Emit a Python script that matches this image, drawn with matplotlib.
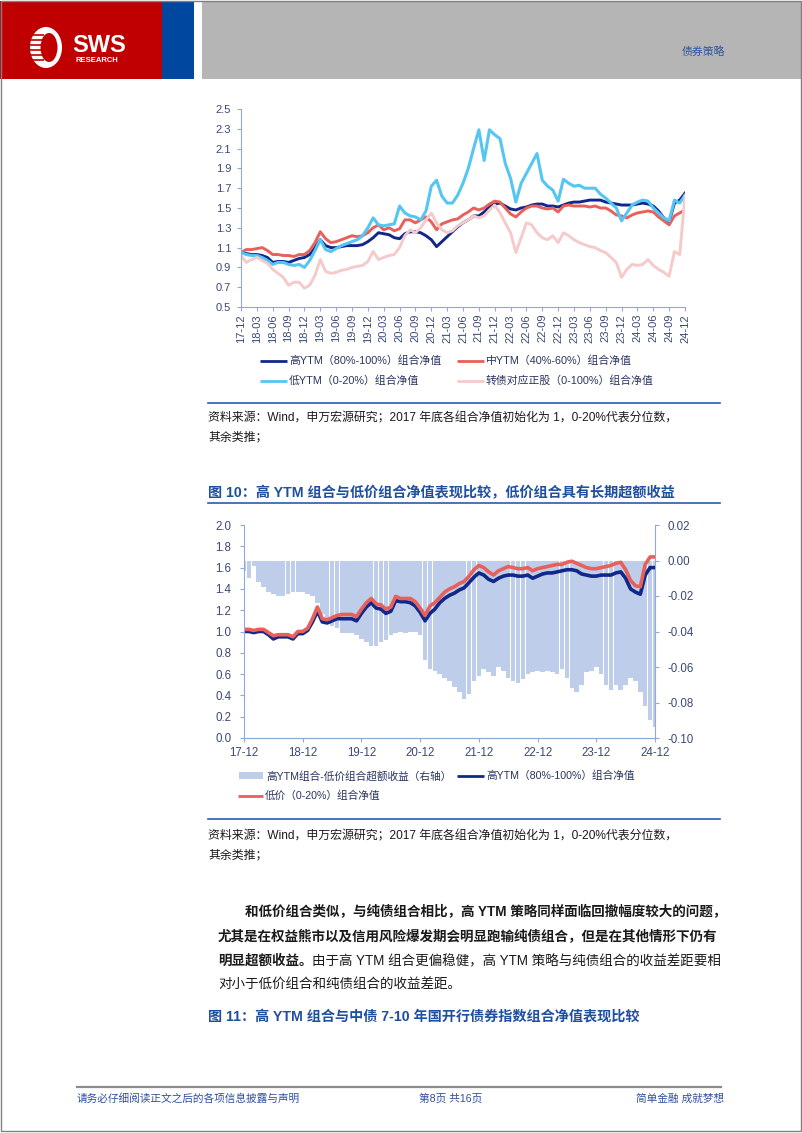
import numpy as np
import matplotlib.pyplot as plt
from matplotlib.patches import Rectangle, Ellipse

plt.rcParams['font.family'] = ['Liberation Sans', 'Noto Sans CJK SC']
plt.rcParams['axes.unicode_minus'] = False

# ---- data (monthly, 17-12 .. 24-12) ----
q_labels = ['17-12', '18-03', '18-06', '18-09', '18-12', '19-03', '19-06', '19-09', '19-12',
            '20-03', '20-06', '20-09', '20-12', '21-03', '21-06', '21-09', '21-12', '22-03',
            '22-06', '22-09', '22-12', '23-03', '23-06', '23-09', '23-12', '24-03', '24-06',
            '24-09', '24-12']
y_labels = ['17-12', '18-12', '19-12', '20-12', '21-12', '22-12', '23-12', '24-12']

# fig 9 (top chart)
hi_ytm = [1.05,
          1.04, 1.03, 1.03, 1.02, 1.00, 0.95, 0.96, 0.96, 0.95, 0.97, 0.99, 1.00,
          1.03, 1.10, 1.18, 1.12, 1.10, 1.10, 1.11, 1.12, 1.12, 1.12, 1.13, 1.16,
          1.20, 1.25, 1.24, 1.23, 1.20, 1.19, 1.24, 1.26, 1.26, 1.25, 1.22, 1.18,
          1.11, 1.16, 1.21, 1.26, 1.31, 1.35, 1.38, 1.42, 1.42, 1.46, 1.51, 1.54,
          1.55, 1.52, 1.49, 1.48, 1.50, 1.51, 1.53, 1.54, 1.54, 1.52, 1.52, 1.51,
          1.53, 1.55, 1.56, 1.56, 1.57, 1.58, 1.58, 1.58, 1.56, 1.55, 1.54, 1.53,
          1.53, 1.53, 1.54, 1.55, 1.54, 1.52, 1.47, 1.40, 1.36, 1.55, 1.58, 1.65]
mid_ytm = [1.05,
           1.08, 1.08, 1.09, 1.10, 1.07, 1.03, 1.03, 1.02, 1.02, 1.01, 1.03, 1.03,
           1.07, 1.15, 1.26, 1.19, 1.15, 1.16, 1.18, 1.20, 1.22, 1.21, 1.22, 1.25,
           1.30, 1.33, 1.28, 1.30, 1.27, 1.29, 1.38, 1.38, 1.35, 1.38, 1.41, 1.36,
           1.28, 1.34, 1.36, 1.38, 1.39, 1.43, 1.46, 1.50, 1.48, 1.50, 1.54, 1.57,
           1.56, 1.50, 1.44, 1.41, 1.46, 1.50, 1.52, 1.52, 1.50, 1.49, 1.50, 1.46,
           1.52, 1.53, 1.52, 1.52, 1.52, 1.51, 1.52, 1.50, 1.50, 1.47, 1.43, 1.42,
           1.40, 1.43, 1.45, 1.46, 1.47, 1.46, 1.41, 1.37, 1.33, 1.42, 1.45, 1.48]
lo_ytm = [1.05,
          1.03, 1.02, 1.02, 1.00, 0.97, 0.93, 0.95, 0.95, 0.93, 0.92, 0.93, 0.90,
          0.97, 1.07, 1.18, 1.08, 1.06, 1.09, 1.12, 1.14, 1.16, 1.18, 1.22, 1.30,
          1.40, 1.33, 1.32, 1.33, 1.34, 1.52, 1.45, 1.42, 1.41, 1.38, 1.47, 1.72,
          1.78, 1.62, 1.55, 1.55, 1.63, 1.75, 1.90, 2.10, 2.29, 1.98, 2.29, 2.24,
          2.20, 1.95, 1.80, 1.56, 1.75, 1.85, 1.95, 2.05, 1.78, 1.72, 1.68, 1.57,
          1.79, 1.75, 1.72, 1.73, 1.70, 1.70, 1.70, 1.64, 1.60, 1.55, 1.50, 1.37,
          1.45, 1.53, 1.56, 1.58, 1.57, 1.50, 1.45, 1.40, 1.37, 1.58, 1.55, 1.63]
stock = [1.02,
         0.95, 0.98, 1.00, 0.97, 0.94, 0.88, 0.84, 0.80, 0.72, 0.75, 0.75, 0.69,
         0.72, 0.82, 0.98, 0.86, 0.84, 0.85, 0.87, 0.88, 0.90, 0.91, 0.92, 0.96,
         1.06, 0.98, 1.00, 1.02, 1.03, 1.10, 1.22, 1.28, 1.25, 1.30, 1.38, 1.45,
         1.35, 1.28, 1.25, 1.27, 1.32, 1.35, 1.38, 1.42, 1.40, 1.42, 1.48, 1.53,
         1.45, 1.35, 1.25, 1.05, 1.20, 1.35, 1.33, 1.25, 1.20, 1.18, 1.22, 1.15,
         1.25, 1.22, 1.18, 1.15, 1.13, 1.11, 1.10, 1.07, 1.05, 1.00, 0.95, 0.80,
         0.88, 0.93, 0.92, 0.93, 0.98, 0.92, 0.88, 0.85, 0.81, 1.06, 1.03, 1.62]

# fig 10 (bottom chart)
hi_nav = [1.00,
          1.00, 0.99, 1.00, 1.00, 0.97, 0.93, 0.95, 0.95, 0.95, 0.93, 0.98, 0.98,
          1.01, 1.09, 1.19, 1.09, 1.08, 1.10, 1.12, 1.12, 1.12, 1.12, 1.10, 1.17,
          1.23, 1.27, 1.22, 1.21, 1.17, 1.19, 1.29, 1.28, 1.28, 1.27, 1.24, 1.18,
          1.10, 1.17, 1.21, 1.27, 1.31, 1.34, 1.36, 1.39, 1.41, 1.46, 1.51, 1.55,
          1.53, 1.49, 1.47, 1.50, 1.52, 1.53, 1.53, 1.52, 1.52, 1.53, 1.50, 1.52,
          1.54, 1.55, 1.55, 1.56, 1.57, 1.58, 1.58, 1.57, 1.54, 1.53, 1.52, 1.52,
          1.53, 1.53, 1.53, 1.55, 1.56, 1.50, 1.40, 1.37, 1.35, 1.53, 1.60, 1.60]
lowprice_nav = [1.02,
                1.02, 1.01, 1.02, 1.02, 0.99, 0.96, 0.97, 0.97, 0.97, 0.95, 1.00, 1.00,
                1.03, 1.12, 1.23, 1.12, 1.11, 1.13, 1.15, 1.16, 1.16, 1.16, 1.14, 1.21,
                1.27, 1.31, 1.26, 1.25, 1.21, 1.23, 1.33, 1.31, 1.31, 1.31, 1.28, 1.22,
                1.15, 1.24, 1.27, 1.32, 1.37, 1.40, 1.42, 1.45, 1.47, 1.52, 1.58, 1.62,
                1.60, 1.56, 1.53, 1.57, 1.59, 1.61, 1.60, 1.59, 1.59, 1.60, 1.57, 1.59,
                1.60, 1.61, 1.62, 1.63, 1.63, 1.65, 1.66, 1.64, 1.62, 1.60, 1.59, 1.59,
                1.60, 1.61, 1.62, 1.64, 1.65, 1.58, 1.48, 1.43, 1.42, 1.63, 1.70, 1.70]
excess = [-0.006,
          -0.010, -0.003, -0.012, -0.015, -0.018, -0.019, -0.020, -0.020, -0.019, -0.018, -0.018, -0.018,
          -0.019, -0.020, -0.024, -0.030, -0.034, -0.037, -0.038, -0.041, -0.041, -0.041, -0.042, -0.044,
          -0.046, -0.048, -0.048, -0.046, -0.045, -0.042, -0.041, -0.040, -0.041, -0.040, -0.040, -0.042,
          -0.056, -0.061, -0.062, -0.064, -0.066, -0.068, -0.071, -0.074, -0.078, -0.075, -0.068, -0.065,
          -0.061, -0.063, -0.065, -0.060, -0.062, -0.066, -0.068, -0.069, -0.067, -0.064, -0.063, -0.062,
          -0.063, -0.062, -0.063, -0.064, -0.061, -0.066, -0.072, -0.074, -0.070, -0.063, -0.062, -0.060,
          -0.064, -0.070, -0.073, -0.070, -0.073, -0.070, -0.066, -0.068, -0.074, -0.082, -0.090, -0.094]

months = np.arange(len(hi_ytm))

NAVY = '#10288a'
RED = '#e8605a'
LBLUE = '#55c6f4'
PINK = '#f5caca'
BAR = '#bdcdea'
SPINE = '#8eaadb'
TICK = '#3a4878'
BLUE_T = '#1f4fa0'

W, H = 802, 1133
fig = plt.figure(figsize=(W / 100, H / 100), dpi=100)


def box(l, t, r, b):
    return [l / W, 1 - b / H, (r - l) / W, (b - t) / H]


# page overlay in pixel coordinates
ax0 = fig.add_axes([0, 0, 1, 1])
ax0.set_xlim(0, W)
ax0.set_ylim(H, 0)
ax0.axis('off')
ax0.patch.set_visible(False)

# header
ax0.add_patch(Rectangle((0, 1), 162, 78, color='#c00000', lw=0))
ax0.add_patch(Rectangle((162, 1), 32, 78, color='#0047a0', lw=0))
ax0.add_patch(Rectangle((202, 1), 600, 78, color='#b5b5b5', lw=0))
ax0.add_patch(Ellipse((46, 47.5), 32, 41, color='white', lw=0))
ax0.add_patch(Ellipse((49, 47.5), 17, 29, color='#c00000', lw=0))
for yy in [35, 40, 45, 50, 55, 60]:
    ax0.plot([29, 44], [yy, yy], color='#c00000', lw=1.2, solid_capstyle='butt')
ax0.text(72, 46, 'SWS', color='white', fontsize=17, fontweight='bold', va='center', ha='left')
ax0.text(76, 60, 'RESEARCH', color='white', fontsize=5.5, fontweight='bold', va='center', ha='left')
ax0.text(725, 52, '债券策略', color='#2f55a4', fontsize=7.8, va='center', ha='right')

# page border
ax0.add_patch(Rectangle((0.5, 0.5), 800.5, 1130, fill=False, ec='#808080', lw=1))

# ---- chart 1 ----
ax1 = fig.add_axes(box(241, 109, 685, 307))
ax1.plot(months, hi_ytm, color=NAVY, lw=2.1)
ax1.plot(months, mid_ytm, color=RED, lw=2.1)
ax1.plot(months, lo_ytm, color=LBLUE, lw=2.2)
ax1.plot(months, stock, color=PINK, lw=2.1)
ax1.set_xlim(0, 84)
ax1.set_ylim(0.5, 2.5)
ax1.set_yticks(np.arange(0.5, 2.51, 0.2))
ax1.set_yticklabels(['%.1f' % v for v in np.arange(0.5, 2.51, 0.2)])
ax1.set_xticks(np.arange(0, 85, 3))
ax1.set_xticklabels(q_labels, rotation=90)
for s in ['top', 'right']:
    ax1.spines[s].set_visible(False)
for s in ['left', 'bottom']:
    ax1.spines[s].set_color(SPINE)
ax1.tick_params(colors=SPINE, labelcolor=TICK, labelsize=8, length=3, width=0.8)
ax1.tick_params(axis='y', pad=4)
ax1.tick_params(axis='x', pad=2)

# legend 1
leg1 = [(260, 361, NAVY, '高YTM（80%-100%）组合净值'),
        (457, 361, RED, '中YTM（40%-60%）组合净值'),
        (260, 381, LBLUE, '低YTM（0-20%）组合净值'),
        (457, 381, PINK, '转债对应正股（0-100%）组合净值')]
for x, y, c, t in leg1:
    ax0.plot([x, x + 27], [y, y], color=c, lw=2.0, solid_capstyle='butt')
    ax0.text(x + 29, y, t, fontsize=7.8, va='center', ha='left', color='#2a3560')

ax0.plot([208, 720], [403, 403], color='#2f5aa8', lw=1.2)
src = '资料来源：Wind，申万宏源研究；2017 年底各组合净值初始化为 1，0-20%代表分位数，'
ax0.text(208, 418, src, fontsize=8.6, va='center', ha='left', color='#1a1a1a')
ax0.text(208, 437, '其余类推；', fontsize=8.6, va='center', ha='left', color='#1a1a1a')

# ---- chart 2 ----
ax0.text(208, 493, '图 10：高 YTM 组合与低价组合净值表现比较，低价组合具有长期超额收益',
         fontsize=10.2, fontweight='bold', va='center', ha='left', color=BLUE_T)
ax0.plot([208, 720], [503, 503], color='#2f5aa8', lw=1.2)

ax2 = fig.add_axes(box(244, 525, 655, 738))
ax2r = ax2.twinx()
ax2r.bar(months, excess, width=0.93, color=BAR, lw=0)
ax2r.set_ylim(-0.10, 0.02)
ax2r.set_yticks(np.arange(-0.10, 0.021, 0.02))
ax2r.set_yticklabels(['%.2f' % v for v in np.arange(-0.10, 0.021, 0.02)])
ax2.set_zorder(ax2r.get_zorder() + 1)
ax2.patch.set_visible(False)
ax2.plot(months, hi_nav, color=NAVY, lw=2.6)
ax2.plot(months, lowprice_nav, color=RED, lw=2.6)
ax2.set_xlim(0, 84)
ax2.set_ylim(0, 2.0)
ax2.set_yticks(np.arange(0, 2.01, 0.2))
ax2.set_yticklabels(['%.1f' % v for v in np.arange(0, 2.01, 0.2)])
ax2.set_xticks(np.arange(0, 85, 12))
ax2.set_xticklabels(y_labels)
for a in (ax2, ax2r):
    a.spines['top'].set_visible(False)
    for s in ['left', 'right', 'bottom']:
        a.spines[s].set_color(SPINE)
    a.tick_params(colors=SPINE, labelcolor=TICK, labelsize=8.3, length=3, width=0.8)
ax2.spines['right'].set_visible(False)
ax2r.spines['left'].set_visible(False)
ax2r.tick_params(axis='y', pad=6)
ax2.tick_params(axis='y', pad=6)

# legend 2
ax0.add_patch(Rectangle((239, 772), 24, 7, color=BAR, lw=0))
ax0.text(266, 776, '高YTM组合-低价组合超额收益（右轴）', fontsize=7.7, va='center', ha='left', color='#2a3560')
ax0.plot([457, 484], [776, 776], color=NAVY, lw=2.0, solid_capstyle='butt')
ax0.text(486, 776, '高YTM（80%-100%）组合净值', fontsize=7.7, va='center', ha='left', color='#2a3560')
ax0.plot([238, 263], [796, 796], color=RED, lw=2.0, solid_capstyle='butt')
ax0.text(265, 796, '低价（0-20%）组合净值', fontsize=7.7, va='center', ha='left', color='#2a3560')

ax0.plot([208, 720], [819, 819], color='#2f5aa8', lw=1.2)
ax0.text(208, 836, src, fontsize=8.6, va='center', ha='left', color='#1a1a1a')
ax0.text(208, 855, '其余类推；', fontsize=8.6, va='center', ha='left', color='#1a1a1a')

# ---- body text ----
BODY = 9.75
ax0.text(245, 912, '和低价组合类似，与纯债组合相比，高 YTM 策略同样面临回撤幅度较大的问题，',
         fontsize=BODY, fontweight='bold', va='center', ha='left', color='#1a1a1a')
ax0.text(218, 937, '尤其是在权益熊市以及信用风险爆发期会明显跑输纯债组合，但是在其他情形下仍有',
         fontsize=BODY, fontweight='bold', va='center', ha='left', color='#1a1a1a')
t3 = ax0.text(218, 961, '明显超额收益。', fontsize=BODY, fontweight='bold', va='center', ha='left',
              color='#1a1a1a')
ax0.text(218, 985, '对小于低价组合和纯债组合的收益差距。', fontsize=BODY, va='center', ha='left',
         color='#1a1a1a')
fig.canvas.draw()
bb = t3.get_window_extent()
ax0.text(bb.x1, 961, '由于高 YTM 组合更偏稳健，高 YTM 策略与纯债组合的收益差距要相',
         fontsize=BODY, va='center', ha='left', color='#1a1a1a')

ax0.text(208, 1017, '图 11：高 YTM 组合与中债 7-10 年国开行债券指数组合净值表现比较',
         fontsize=10.2, fontweight='bold', va='center', ha='left', color=BLUE_T)

# footer
ax0.plot([77, 721], [1087, 1087], color='#8c8c8c', lw=1.6)
ax0.text(77, 1099, '请务必仔细阅读正文之后的各项信息披露与声明', fontsize=7.7, va='center', ha='left',
         color='#2f4f9f')
ax0.text(451, 1099, '第8页 共16页', fontsize=7.7, va='center', ha='center', color='#2f4f9f')
ax0.text(724, 1099, '简单金融 成就梦想', fontsize=7.7, va='center', ha='right', color='#2f4f9f')

fig.savefig('out.png', dpi=100)
